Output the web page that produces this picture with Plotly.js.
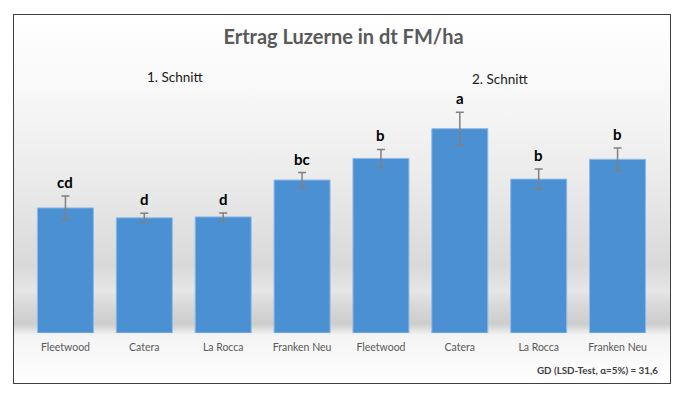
<!DOCTYPE html>
<html>
<head>
<meta charset="utf-8">
<script src="https://cdn.plot.ly/plotly-3.0.1.min.js"></script>
<style>
  html, body { margin: 0; padding: 0; width: 687px; height: 397px; background: #ffffff; overflow: hidden; }
  #frame {
    position: absolute; left: 13px; top: 14px; width: 656px; height: 368px;
    border: 1.5px solid #404040;
    background: linear-gradient(to bottom,
      #ffffff 0%, #f8f8f8 20%, #ececec 43%, #d9d9d9 68%, #e6e6e6 75%,
      #d8d8d8 79%, #cdcdcd 84%, #f4f4f4 87%, #ffffff 100%);
  }
  #chart { position: absolute; left: 0; top: 0; width: 687px; height: 397px; }
</style>
</head>
<body>
<div id="frame"></div>
<div id="chart"></div>
<script>
// Data (dt FM/ha)
const categories = ["Fleetwood", "Catera", "La Rocca", "Franken Neu", "Fleetwood", "Catera", "La Rocca", "Franken Neu"];
const yields = [139, 128, 129, 170, 194, 227, 171, 193];
const errors = [13.3, 5.0, 4.4, 8.3, 10.0, 18.3, 11.1, 12.5];
const letters = ["cd", "d", "d", "bc", "b", "a", "b", "b"];
const groupLabels = ["1. Schnitt", "2. Schnitt"];
const titleText = "Ertrag Luzerne in dt FM/ha";
const noteText = "GD (LSD-Test, \u03b1=5%) = 31,6";

const xs = categories.map((c, i) => i);
const FONT = "Lato, 'Open Sans', sans-serif";

const trace = {
  type: "bar",
  x: xs,
  y: yields,
  marker: { color: "#4b90d2", line: { color: "#8dbbe7", width: 1 } },
  error_y: { type: "data", array: errors, visible: true, color: "#808080", thickness: 1.5, width: 4 },
  hoverinfo: "skip"
};

const annotations = letters.map((t, i) => ({
  x: xs[i], y: yields[i] + errors[i], xref: "x", yref: "y",
  text: "<b>" + t + "</b>", showarrow: false, yanchor: "bottom", yshift: 3,
  font: { family: FONT, size: 15, color: "#000000" }
}));
annotations.push({
  x: 0.2373, y: 0.947, xref: "paper", yref: "paper", text: groupLabels[0],
  showarrow: false, xanchor: "center", yanchor: "middle",
  font: { family: FONT, size: 13.5, color: "#1a1a1a" }
});
annotations.push({
  x: 0.7524, y: 0.941, xref: "paper", yref: "paper", text: groupLabels[1],
  showarrow: false, xanchor: "center", yanchor: "middle",
  font: { family: FONT, size: 13.5, color: "#1a1a1a" }
});
annotations.push({
  x: 1.0044, y: -0.1358, xref: "paper", yref: "paper", text: "<b>" + noteText + "</b>",
  showarrow: false, xanchor: "right", yanchor: "middle",
  font: { family: FONT, size: 9.8, color: "#404040" }
});

const layout = {
  width: 687, height: 397,
  margin: { l: 26, r: 30, t: 63, b: 64, pad: 0 },
  paper_bgcolor: "rgba(0,0,0,0)",
  plot_bgcolor: "rgba(0,0,0,0)",
  showlegend: false,
  bargap: 0.29,
  title: {
    text: "<b>" + titleText + "</b>",
    font: { family: FONT, size: 20, color: "#595959" },
    x: 0.5, xref: "container", y: 1 - 37 / 397, yref: "container", yanchor: "middle"
  },
  xaxis: {
    range: [-0.5, 7.5], tickvals: xs, ticktext: categories,
    showgrid: false, zeroline: false, showline: false, ticks: "",
    ticklabelstandoff: 6,
    tickfont: { family: FONT, size: 10.5, color: "#595959" },
    fixedrange: true
  },
  yaxis: {
    range: [0, 300], showgrid: false, zeroline: false, showline: false,
    showticklabels: false, ticks: "", fixedrange: true
  },
  annotations: annotations
};

Plotly.newPlot("chart", [trace], layout, { displayModeBar: false, staticPlot: true });
</script>
</body>
</html>
